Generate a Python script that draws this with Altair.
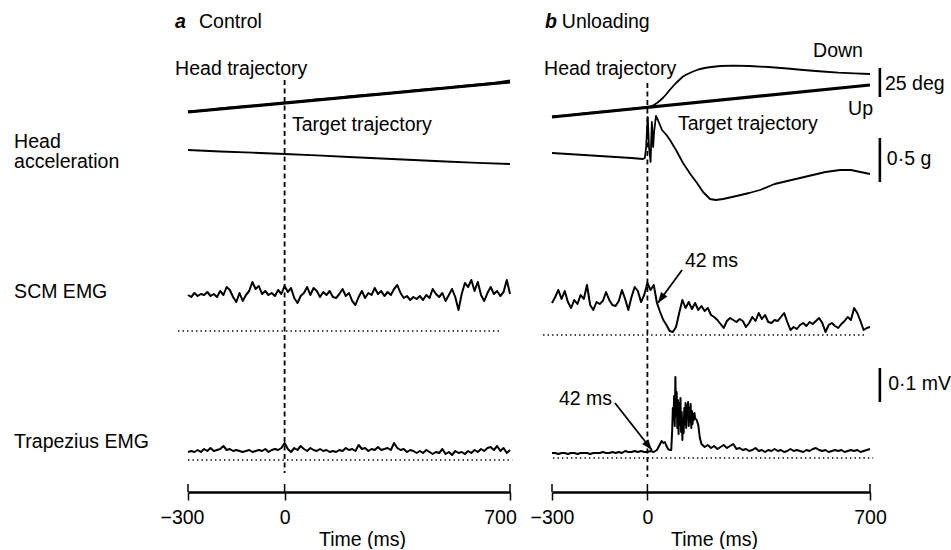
import altair as alt
import pandas as pd

FONT = "Liberation Sans"
FS = 19.5

# ---------------- data (time in ms, vertical value in display units) ----------------
T10 = list(range(-300, 701, 10))
T50 = list(range(-300, 701, 50))
T100 = list(range(-300, 701, 100))

# ---- panel a : Control ----
TARGET_A_T = [-300, 700]
TARGET_A = [380, 410]
HEAD_A = [380.5, 381.5, 383.5, 385, 386, 387.5, 389, 390.5, 392.5, 393.5, 395.5,
          397, 398, 399.5, 401.5, 403, 404, 406, 407.5, 409, 411.5]
ACC_A = [342, 340.5, 339.3, 338, 336.6, 335, 333.5, 332, 330.5, 329.2, 328]

SCM_A_BASE = 161
SCM_A = [36, 34, 38, 35, 37, 36, 39, 35, 37, 34,
         40, 36, 44, 41, 34, 29, 38, 30, 36, 40,
         49, 42, 45, 37, 40, 36, 38, 35, 41, 37,
         45, 39, 43, 33, 28, 35, 38, 44, 36, 43,
         40, 34, 39, 36, 40, 34, 33, 37, 42, 35,
         38, 30, 26, 34, 40, 33, 38, 36, 43, 37,
         40, 35, 39, 36, 42, 46, 38, 33, 35, 31,
         34, 32, 35, 31, 36, 33, 42, 37, 34, 38,
         30, 36, 42, 34, 21, 37, 48, 44, 51, 40,
         49, 36, 30, 38, 44, 37, 40, 35, 39, 51,
         37]

TRAP_A_BASE = 32
TRAP_A = [8, 9, 8, 10, 8, 11, 9, 12, 9, 10,
          11, 14, 10, 11, 9, 10, 9, 8, 9, 10,
          8, 9, 10, 9, 11, 8, 10, 11, 10, 12,
          17, 11, 8, 12, 10, 14, 11, 9, 12, 10,
          9, 11, 9, 10, 8, 9, 8, 10, 9, 12,
          10, 11, 9, 15, 11, 12, 9, 11, 10, 13,
          10, 11, 12, 10, 17, 12, 10, 11, 8, 10,
          9, 7, 9, 7, 10, 8, 6, 8, 7, 11,
          6, 8, 5, 9, 7, 8, 6, 9, 7, 10,
          8, 11, 9, 12, 13, 10, 14, 9, 12, 7,
          10]

# ---- panel b : Unloading ----
TARGET_B_T = [-300, 700]
TARGET_B = [375, 407]
HEAD_B_T = [-300, -250, -200, -150, -100, -50, 0,
            10, 20, 30, 40, 50, 60, 70, 80, 90, 100, 110, 120,
            140, 160, 180, 200,
            230, 270, 320, 380, 440, 490, 550, 600, 650, 700]
HEAD_B = [375.5, 376.5, 378.5, 380, 381.5, 383, 384.8,
          385.5, 387, 389, 391.5, 394.5, 398, 402, 405.5, 409, 412, 415, 417,
          420, 422.5, 424, 425,
          426, 426.3, 426, 425, 423.5, 422, 420.5, 419.3, 418.6, 418]

ACC_B_T = [-300, -250, -200, -150, -100, -50,
           -14, -8, -4, 1, 5, 10, 14, 18, 21, 27, 33,
           46, 60, 71, 90, 112, 135, 156, 175, 197, 215, 238,
           280, 320, 354, 400, 440, 480, 520, 560, 606, 640, 670, 700]
ACC_B = [339, 338, 337, 336, 335, 334,
         333, 334, 345, 375, 345, 330, 370, 345, 360, 376, 372,
         362, 357, 352, 342, 329, 318, 309, 300, 293, 292, 293,
         296, 299, 302, 308, 311, 314, 317, 320, 322, 322, 320, 318]

SCM_B_BASE = 157
SCM_B = [32, 38, 45, 36, 44, 33, 27, 35, 31, 40,
         36, 50, 30, 25, 33, 31, 34, 43, 35, 30,
         29, 34, 45, 36, 25, 38, 48, 44, 33, 40,
         52, 45, 50, 32, 23, 15, 10, 4, 3, 8,
         22, 35, 27, 33, 26, 32, 25, 29, 24, 27,
         20, 18, 15, 11, 7, 14, 17, 15, 13, 16,
         14, 8, 12, 18, 14, 22, 16, 20, 13, 12,
         15, 14, 18, 22, 13, 5, 8, 6, 10, 12,
         9, 13, 11, 14, 17, 12, 3, 10, 12, 9,
         7, 11, 14, 18, 15, 27, 22, 14, 5, 7,
         8]

TRAP_B_BASE = 34
TRAP_B_T = (list(range(-300, 31, 10))
            + [40, 45, 50, 55, 60, 65, 70, 75, 78]
            + list(range(80, 151, 2))
            + [155, 160, 165, 170]
            + list(range(180, 701, 10)))
TRAP_B = ([5, 5, 4, 5, 5, 4, 5, 5, 4, 5,
           5, 5, 4, 5, 5, 5, 6, 5, 5, 6,
           5, 6, 5, 7, 6, 6, 7, 6, 7, 6,
           6, 7, 6, 8]
          + [14, 17, 15, 16, 12, 9, 8, 8, 28]
          + [50, 38, 62, 32, 81, 42, 66, 30, 58, 24, 55, 33, 60, 26, 46, 18, 40, 25,
             50, 34, 55, 30, 53, 40, 56, 32, 50, 36, 54, 30, 47, 34, 44, 38, 45, 40]
          + [38, 33, 20, 14]
          + [11, 13, 10, 12, 9, 11, 13, 10, 12, 14,
             9, 10, 8, 9, 7, 8, 10, 7, 8, 6,
             8, 7, 9, 7, 8, 6, 7, 9, 7, 8,
             7, 6, 8, 7, 9, 10, 8, 7, 8, 6,
             7, 8, 7, 8, 6, 7, 8, 7, 8, 6,
             7, 8, 9])

# ---------------- helpers ----------------
XS = alt.Scale(domain=[-300, 700], nice=False, zero=False)
YS = alt.Scale(domain=[0, 487], nice=False, zero=False)
ARROW = "M0,0L0.36,1L-0.36,1Z"


def xenc(title_x, shift_ends):
    if shift_ends:
        label_offset = {"condition": [{"test": "datum.value == 700", "value": -10},
                                      {"test": "datum.value == -300", "value": -6}],
                        "value": 0}
    else:
        label_offset = 0
    return alt.X(
        "t:Q", scale=XS,
        axis=alt.Axis(
            values=[-300, 0, 700], title="Time (ms)", grid=False,
            domainColor="black", domainWidth=2.5,
            tickColor="black", tickWidth=1.5, tickSize=8,
            labelFont=FONT, labelFontSize=FS, labelColor="black",
            labelBaseline="alphabetic", labelPadding=23,
            labelFlush=False, labelOverlap=False,
            labelOffset=label_offset,
            titleFont=FONT, titleFontSize=FS, titleFontWeight="normal",
            titleColor="black", titleBaseline="alphabetic",
            titleX=title_x, titleY=53, titleAlign="center",
        ),
    )


YENC = alt.Y("u:Q", scale=YS, axis=None)


def line_df(series):
    rows = []
    for name, ts, vs, base in series:
        for t, v in zip(ts, vs):
            rows.append({"t": t, "u": base + v, "s": name})
    return pd.DataFrame(rows)


def panel(width, title_x, shift_ends, thin, emg, thick, dotted, dashed, bars, texts,
          italics, arrows):
    X = xenc(title_x, shift_ends)
    layers = []
    layers.append(alt.Chart(pd.DataFrame(dotted, columns=["t", "t2", "u"]))
                  .mark_rule(color="black", strokeWidth=1.6, strokeDash=[1.4, 3.1])
                  .encode(x=X, x2="t2:Q", y=YENC))
    layers.append(alt.Chart(pd.DataFrame([dashed], columns=["t", "u", "u2"]))
                  .mark_rule(color="black", strokeWidth=1.8, strokeDash=[5, 3.5])
                  .encode(x=X, y=YENC, y2="u2:Q"))
    layers.append(alt.Chart(pd.DataFrame({"t": [-300, 0, 700], "u": [0, 0, 0], "u2": [8, 8, 8]}))
                  .mark_rule(color="black", strokeWidth=1.5)
                  .encode(x=X, y=YENC, y2="u2:Q"))
    layers.append(alt.Chart(line_df(thick))
                  .mark_line(color="black", strokeWidth=3.2, strokeJoin="round")
                  .encode(x=X, y=YENC, detail="s:N"))
    layers.append(alt.Chart(line_df(thin))
                  .mark_line(color="black", strokeWidth=1.8, strokeJoin="round")
                  .encode(x=X, y=YENC, detail="s:N"))
    layers.append(alt.Chart(line_df(emg))
                  .mark_line(color="black", strokeWidth=2, strokeJoin="round")
                  .encode(x=X, y=YENC, detail="s:N"))
    if bars:
        layers.append(alt.Chart(pd.DataFrame(bars, columns=["t", "u", "u2"]))
                      .mark_rule(color="black", strokeWidth=2.6)
                      .encode(x=X, y=YENC, y2="u2:Q"))
    if arrows:
        adf = pd.DataFrame(arrows, columns=["t", "u", "t2", "u2", "ang"])
        layers.append(alt.Chart(adf)
                      .mark_rule(color="black", strokeWidth=1.8)
                      .encode(x=X, y=YENC, x2="t2:Q", y2="u2:Q"))
        hdf = pd.DataFrame({"t": adf["t2"], "u": adf["u2"], "ang": adf["ang"]})
        layers.append(alt.Chart(hdf)
                      .mark_point(shape=ARROW, filled=True, size=460, color="black",
                                  opacity=1, strokeWidth=0)
                      .encode(x=X, y=YENC, angle=alt.Angle("ang:Q", scale=None)))
    layers.append(alt.Chart(pd.DataFrame(texts, columns=["t", "u", "label"]))
                  .mark_text(align="left", baseline="alphabetic", font=FONT,
                             fontSize=FS, color="black")
                  .encode(x=X, y=YENC, text="label:N"))
    layers.append(alt.Chart(pd.DataFrame(italics, columns=["t", "u", "label"]))
                  .mark_text(align="left", baseline="alphabetic", font=FONT,
                             fontSize=FS, fontStyle="italic", fontWeight="bold",
                             color="black")
                  .encode(x=X, y=YENC, text="label:N"))
    return alt.layer(*layers).properties(width=width, height=487)


left = panel(
    322, 174, True,
    thin=[("target", TARGET_A_T, TARGET_A, 0), ("head", T50, HEAD_A, 0),
          ("acc", T100, ACC_A, 0)],
    emg=[("scm", T10, SCM_A, SCM_A_BASE), ("trap", T10, TRAP_A, TRAP_A_BASE)],
    thick=[("target", TARGET_A_T, TARGET_A, 0)],
    dotted=[(-331, 675, SCM_A_BASE), (-300, 707, TRAP_A_BASE)],
    dashed=(0, 412, 19),
    bars=None,
    texts=[(-266, 464, "Control"), (-340, 417, "Head trajectory"),
           (23, 361, "Target trajectory"), (-840, 344, "Head"),
           (-840, 324, "acceleration"), (-840, 194, "SCM EMG"),
           (-840, 44, "Trapezius EMG")],
    italics=[(-340, 464, "a")],
    arrows=None,
)

right = panel(
    318, 162, False,
    thin=[("head", HEAD_B_T, HEAD_B, 0), ("acc", ACC_B_T, ACC_B, 0)],
    emg=[("scm", T10, SCM_B, SCM_B_BASE), ("trap", TRAP_B_T, TRAP_B, TRAP_B_BASE)],
    thick=[("target", TARGET_B_T, TARGET_B, 0)],
    dotted=[(-328, 690, SCM_B_BASE), (-297, 710, TRAP_B_BASE)],
    dashed=(0, 409, 15),
    bars=[(731, 395, 424), (731, 310, 354), (731, 90, 124)],
    texts=[(-269, 464, "Unloading"), (-325, 417, "Head trajectory"),
           (96, 362, "Target trajectory"), (521, 435, "Down"), (631, 377, "Up"),
           (747, 402, "25 deg"), (753, 327, "0·5 g"), (757, 102, "0·1 mV"),
           (118, 225, "42 ms"), (-278, 87, "42 ms")],
    italics=[(-322, 464, "b")],
    arrows=[(109, 222, 33, 189, 216), (-102, 89, 14, 42, 142)],
)

chart = (
    alt.hconcat(left, right, spacing=42, bounds="flush")
    .properties(padding={"left": 14, "top": 5, "right": 0, "bottom": 0})
    .configure_view(stroke=None)
)

chart.save("out.html", embed_options={"renderer": "svg", "actions": False})
